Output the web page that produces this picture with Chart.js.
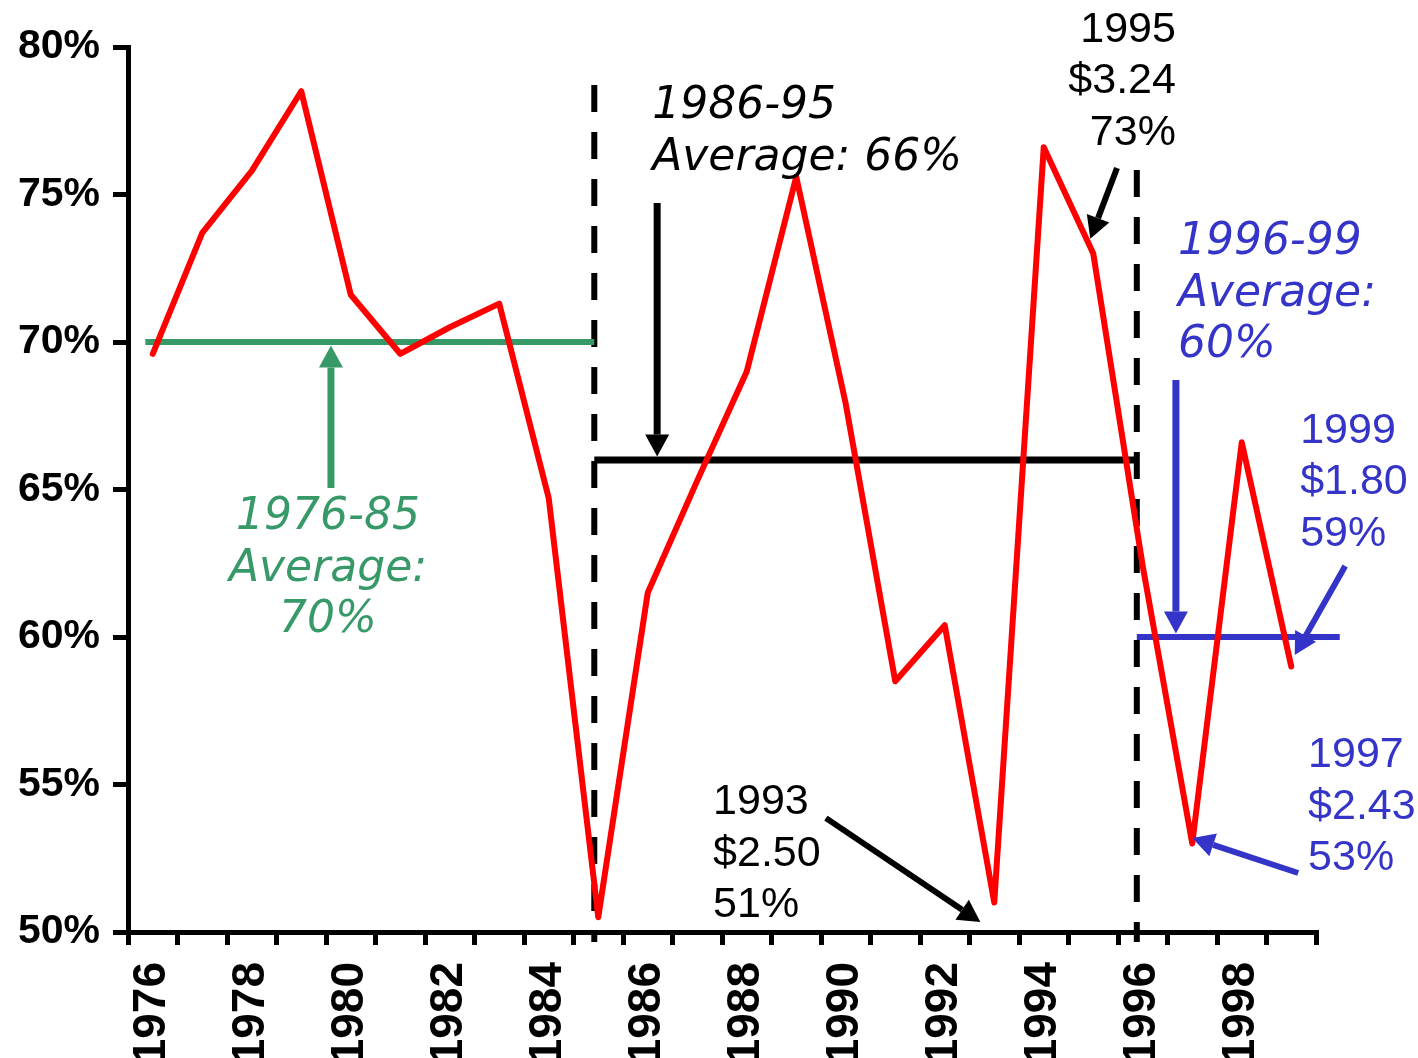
<!DOCTYPE html>
<html>
<head>
<meta charset="utf-8">
<title>Payout ratio 1976-1999</title>
<script src="https://cdn.jsdelivr.net/npm/chart.js@4/dist/chart.umd.min.js"></script>
<style>
  html, body { margin: 0; padding: 0; background: #fff; overflow: hidden; }
  canvas { display: block; }
</style>
</head>
<body>
<canvas id="chart" width="1418" height="1080"></canvas>
<script>
// ---- data ----
const years = ['1976','1977','1978','1979','1980','1981','1982','1983','1984','1985',
               '1986','1987','1988','1989','1990','1991','1992','1993','1994','1995',
               '1996','1997','1998','1999'];
const payoutPct = [69.6, 73.7, 75.8, 78.5, 71.6, 69.6, 70.5, 71.3, 64.7, 50.5,
                   61.5, 65.3, 69.0, 75.6, 67.9, 58.5, 60.4, 51.0, 76.6, 73.0,
                   62.4, 53.0, 66.6, 59.0];
const yTicks = [50, 55, 60, 65, 70, 75, 80];

const periodLabels = ['1976-85', '1986-95', '1996-99'];
const periodAverages = [70, 66, 60];

const calloutYears = ['1995', '1993', '1999', '1997'];
const calloutPrices = ['$3.24', '$2.50', '$1.80', '$2.43'];

// ---- styling / layout ----
const H = 1080;
const AXIS_BOTTOM = 932;
const RED = '#ff0000', GREEN = '#379968', BLUE = '#3434c8', BLACK = '#000000';
const periodColors = [GREEN, BLACK, BLUE];
const periodSpans = [[-0.15, 8.92], [8.92, 19.88], [19.88, 23.98]];
const dividers = [{ at: 8.92, top: 78.71 }, { at: 19.88, top: 75.83 }];
const LINE_GAP = 51.5;

const pct = i => Math.round(payoutPct[years.indexOf(calloutYears[i])]) + '%';

const notes = [
  { lines: [periodLabels[0], 'Average:', periodAverages[0] + '%'], at: [3.54, 63.66], align: 'center', color: GREEN, italic: true },
  { lines: [periodLabels[1], 'Average: ' + periodAverages[1] + '%'], at: [10.09, 77.59], align: 'left', color: BLACK, italic: true },
  { lines: [periodLabels[2], 'Average:', periodAverages[2] + '%'], at: [20.71, 72.98], align: 'left', color: BLUE, italic: true },
  { lines: [calloutYears[0], calloutPrices[0], pct(0)], at: [20.67, 80.17], align: 'right', color: BLACK },
  { lines: [calloutYears[1], calloutPrices[1], pct(1)], at: [11.32, 54.0], align: 'left', color: BLACK },
  { lines: [calloutYears[2], calloutPrices[2], pct(2)], at: [23.18, 66.58], align: 'left', color: BLUE },
  { lines: [calloutYears[3], calloutPrices[3], pct(3)], at: [23.34, 55.59], align: 'left', color: BLUE }
];

const arrows = [
  { from: [3.60, 65.05], to: [3.60, 69.88], color: GREEN, width: 7 },
  { from: [10.19, 74.71], to: [10.19, 66.12], color: BLACK, width: 7 },
  { from: [19.48, 75.9], to: [18.94, 73.5], color: BLACK, width: 6 },
  { from: [13.6, 53.86], to: [16.72, 50.34], color: BLACK, width: 6 },
  { from: [20.67, 68.71], to: [20.67, 60.12], color: BLUE, width: 7 },
  { from: [24.09, 62.41], to: [23.07, 59.39], color: BLUE, width: 6 },
  { from: [23.14, 52.0], to: [21.0, 53.19], color: BLUE, width: 6 }
];

function drawArrow(ctx, x1, y1, x2, y2, color, w) {
  const headLen = 22, headW = 24;
  const ang = Math.atan2(y2 - y1, x2 - x1);
  const bx = x2 - headLen * Math.cos(ang), by = y2 - headLen * Math.sin(ang);
  ctx.strokeStyle = color;
  ctx.lineWidth = w;
  ctx.lineCap = 'butt';
  ctx.beginPath();
  ctx.moveTo(x1, y1);
  ctx.lineTo(bx, by);
  ctx.stroke();
  ctx.fillStyle = color;
  ctx.beginPath();
  ctx.moveTo(x2, y2);
  ctx.lineTo(bx + headW / 2 * Math.sin(ang), by - headW / 2 * Math.cos(ang));
  ctx.lineTo(bx - headW / 2 * Math.sin(ang), by + headW / 2 * Math.cos(ang));
  ctx.closePath();
  ctx.fill();
}

// callout text and arrows, placed in data coordinates
const callouts = {
  id: 'callouts',
  afterDatasetsDraw(chart) {
    const ctx = chart.ctx;
    const xs = chart.scales.xv, ys = chart.scales.y;
    const X = v => xs.getPixelForValue(v), Y = v => ys.getPixelForValue(v);
    ctx.save();
    arrows.forEach(a => drawArrow(ctx, X(a.from[0]), Y(a.from[1]), X(a.to[0]), Y(a.to[1]), a.color, a.width));
    notes.forEach(n => {
      ctx.font = n.italic ? 'italic 44px "DejaVu Sans", Verdana, sans-serif'
                          : '43px "Liberation Sans", Arial, sans-serif';
      ctx.fillStyle = n.color;
      ctx.textAlign = n.align;
      ctx.textBaseline = 'alphabetic';
      const x0 = X(n.at[0]), y0 = Y(n.at[1]);
      n.lines.forEach((t, i) => ctx.fillText(t, x0, y0 + i * LINE_GAP));
    });
    ctx.restore();
  }
};

const datasets = [
  {
    label: 'Payout ratio',
    data: payoutPct,
    xAxisID: 'x', yAxisID: 'y',
    borderColor: RED, borderWidth: 6,
    borderJoinStyle: 'round', borderCapStyle: 'round',
    pointRadius: 0, tension: 0, fill: false, order: 0, clip: false
  }
];
periodAverages.forEach((avg, i) => {
  datasets.push({
    label: periodLabels[i],
    data: [{ x: periodSpans[i][0], y: avg }, { x: periodSpans[i][1], y: avg }],
    xAxisID: 'xv', yAxisID: 'y',
    borderColor: periodColors[i], borderWidth: i === 1 ? 7 : 6,
    borderCapStyle: 'butt',
    pointRadius: 0, tension: 0, fill: false, order: 1, clip: false
  });
});
dividers.forEach(d => {
  datasets.push({
    label: 'divider',
    data: [{ x: d.at, y: d.top }, { x: d.at, y: 49.66 }],
    xAxisID: 'xv', yAxisID: 'y',
    borderColor: BLACK, borderWidth: 6, borderDash: [27, 20],
    borderCapStyle: 'butt',
    pointRadius: 0, tension: 0, fill: false, order: 2, clip: false
  });
});

const axisFont = size => ({ family: '"Liberation Sans", Arial, sans-serif', weight: 'bold', size });

new Chart(document.getElementById('chart'), {
  type: 'line',
  data: { labels: years, datasets },
  options: {
    responsive: false,
    animation: false,
    devicePixelRatio: 1,
    layout: { padding: { top: 47, right: 102, left: 0, bottom: 0 } },
    plugins: { legend: { display: false }, tooltip: { enabled: false } },
    scales: {
      x: {
        type: 'category',
        position: 'bottom',
        offset: true,
        grid: { offset: true, drawOnChartArea: false, drawTicks: true, tickLength: 13, lineWidth: 5, color: BLACK },
        border: { display: true, width: 5, color: BLACK },
        ticks: {
          autoSkip: false, minRotation: 90, maxRotation: 90, padding: 17,
          color: BLACK, font: axisFont(46),
          callback: (v, i) => (i % 2 === 0 ? years[i] : '')
        },
        afterFit: s => { s.height = H - AXIS_BOTTOM; }
      },
      xv: {
        type: 'linear', axis: 'x', position: 'bottom', display: false,
        min: -0.5, max: 23.5
      },
      y: {
        min: 50, max: 80,
        afterBuildTicks: s => { s.ticks = yTicks.map(v => ({ value: v })); },
        grid: { drawOnChartArea: false, drawTicks: true, tickLength: 15, lineWidth: 5, color: BLACK },
        border: { display: true, width: 5, color: BLACK },
        ticks: { padding: 13, color: BLACK, font: axisFont(41), callback: v => v + '%' },
        afterFit: s => { s.width = 128; }
      }
    }
  },
  plugins: [callouts]
});
</script>
</body>
</html>
